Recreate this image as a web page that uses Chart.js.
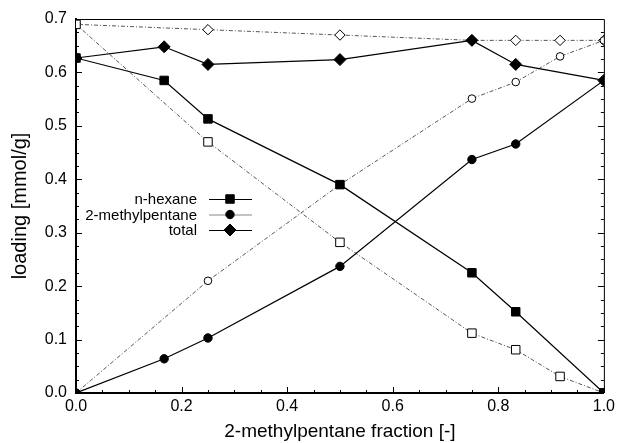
<!DOCTYPE html>
<html><head><meta charset="utf-8">
<script src="https://cdn.jsdelivr.net/npm/chart.js@4.4.0/dist/chart.umd.min.js"></script>
<style>html,body{margin:0;padding:0;background:#fff}#wrap{width:619px;height:443px;position:relative}</style>
</head><body><div id="wrap"><canvas id="c" width="619" height="443"></canvas></div>
<script>
// ---- data ----
const xFilled = [0, 0.167, 0.25, 0.5, 0.75, 0.833, 1.0];
const xOpen = [0, 0.25, 0.5, 0.75, 0.833, 0.917, 1.0];
const hexane = [0.627, 0.585, 0.513, 0.390, 0.225, 0.152, 0.0];
const methylpentane = [0.0, 0.064, 0.103, 0.237, 0.437, 0.466, 0.585];
const total = [0.627, 0.648, 0.615, 0.624, 0.660, 0.615, 0.585];
const hexaneOpen = [0.690, 0.470, 0.282, 0.112, 0.081, 0.031, 0.0];
const methylOpen = [0.0, 0.210, 0.390, 0.551, 0.582, 0.630, 0.660];
const totalOpen = [0.690, 0.680, 0.670, 0.660, 0.660, 0.660, 0.660];
const seriesLabels = ['n-hexane', '2-methylpentane', 'total'];
const xTickLabels = ['0.0', '0.2', '0.4', '0.6', '0.8', '1.0'];
const yTickLabels = ['0.0', '0.1', '0.2', '0.3', '0.4', '0.5', '0.6', '0.7'];
const xTitle = '2-methylpentane fraction [-]';
const yTitle = 'loading [mmol/g]';

const FONT = "'Liberation Sans', Arial, Helvetica, sans-serif";
const pts = (xs, ys) => xs.map((x, i) => ({x: x, y: ys[i]}));

function filled(label, ys, style, r) {
  return {label: label, data: pts(xFilled, ys), borderColor: '#000', borderWidth: 1.2,
    pointStyle: style, pointRadius: r, pointBackgroundColor: '#000', pointBorderColor: '#000',
    pointBorderWidth: 1, showLine: true, order: 0, tension: 0};
}
function open(ys, style, r) {
  return {label: '', data: pts(xOpen, ys), borderColor: '#555', borderWidth: 1, borderDash: [4, 2, 1, 2],
    pointStyle: style, pointRadius: r, pointBackgroundColor: '#fff', pointBorderColor: '#000',
    pointBorderWidth: 1, showLine: true, order: 1, tension: 0};
}

const datasets = [
  filled(seriesLabels[0], hexane, 'rect', 6),
  filled(seriesLabels[1], methylpentane, 'circle', 4.2),
  filled(seriesLabels[2], total, 'rectRot', 6),
  open(hexaneOpen, 'rect', 6),
  open(methylOpen, 'circle', 3.8),
  open(totalOpen, 'rectRot', 5.2)
];

const frame = {
  id: 'frame',
  afterDraw(chart) {
    const ctx = chart.ctx, a = chart.chartArea, xs = chart.scales.x, ys = chart.scales.y;
    ctx.save();
    ctx.strokeStyle = '#000';
    ctx.lineWidth = 1;
    ctx.beginPath();
    ctx.moveTo(a.left, a.top + 0.5); ctx.lineTo(a.right + 0.5, a.top + 0.5); ctx.lineTo(a.right + 0.5, a.bottom);
    ctx.stroke();
    ctx.beginPath();
    for (let i = 0; i <= 20; i++) {
      const v = i * 0.05, px = Math.round(xs.getPixelForValue(v)) + 0.5;
      const len = (i % 4 === 0) ? 6 : 3;
      ctx.moveTo(px, a.bottom); ctx.lineTo(px, a.bottom - len);
    }
    for (let i = 0; i <= 28; i++) {
      const v = i * 0.025, py = Math.round(ys.getPixelForValue(v)) + 0.5;
      const len = (i % 4 === 0) ? 6 : 3;
      ctx.moveTo(a.left, py); ctx.lineTo(a.left + len, py);
      ctx.moveTo(a.right, py); ctx.lineTo(a.right - len, py);
    }
    ctx.stroke();
    // legend
    const rows = [199, 214.5, 230];
    ctx.font = '15px ' + FONT;
    ctx.textAlign = 'right';
    ctx.textBaseline = 'middle';
    chart.data.datasets.filter(d => d.label).forEach((d, i) => {
      const y = rows[i];
      ctx.fillStyle = '#000';
      ctx.fillText(d.label, 197, y + 1);
      ctx.strokeStyle = i === 1 ? '#888' : '#000';
      ctx.lineWidth = 1;
      ctx.beginPath(); ctx.moveTo(209, y + 0.5); ctx.lineTo(252, y + 0.5); ctx.stroke();
      ctx.fillStyle = '#000'; ctx.strokeStyle = '#000';
      Chart.helpers.drawPoint(ctx, {pointStyle: d.pointStyle, radius: d.pointRadius, rotation: 0, borderWidth: 1}, 230, y);
    });
    ctx.restore();
  }
};

new Chart(document.getElementById('c'), {
  type: 'scatter',
  data: {datasets: datasets},
  options: {
    responsive: false, animation: false, devicePixelRatio: 1,
    layout: {padding: {top: 19, right: 11, left: 0, bottom: 0}},
    plugins: {legend: {display: false}, tooltip: {enabled: false}},
    scales: {
      x: {
        type: 'linear', min: 0, max: 1,
        afterFit: s => { s.height = 50; },
        afterBuildTicks: s => { s.ticks = xTickLabels.map(t => ({value: parseFloat(t)})); },
        ticks: {callback: (v, i) => xTickLabels[i], font: {family: FONT, size: 16}, color: '#000', padding: 4, maxRotation: 0},
        grid: {drawOnChartArea: false, drawTicks: false},
        border: {color: '#000', width: 2},
        title: {display: true, text: xTitle, font: {family: FONT, size: 19}, color: '#000', padding: {top: 0, bottom: 0}}
      },
      y: {
        type: 'linear', min: 0, max: 0.7,
        afterFit: s => { s.width = 76; },
        afterBuildTicks: s => { s.ticks = yTickLabels.map(t => ({value: parseFloat(t)})); },
        ticks: {callback: (v, i) => yTickLabels[i], font: {family: FONT, size: 16}, color: '#000', padding: 9},
        grid: {drawOnChartArea: false, drawTicks: false},
        border: {color: '#000', width: 2},
        title: {display: true, text: yTitle, font: {family: FONT, size: 20}, color: '#000', padding: {top: 8, bottom: 0}}
      }
    }
  },
  plugins: [frame]
});
</script>
</body></html>
